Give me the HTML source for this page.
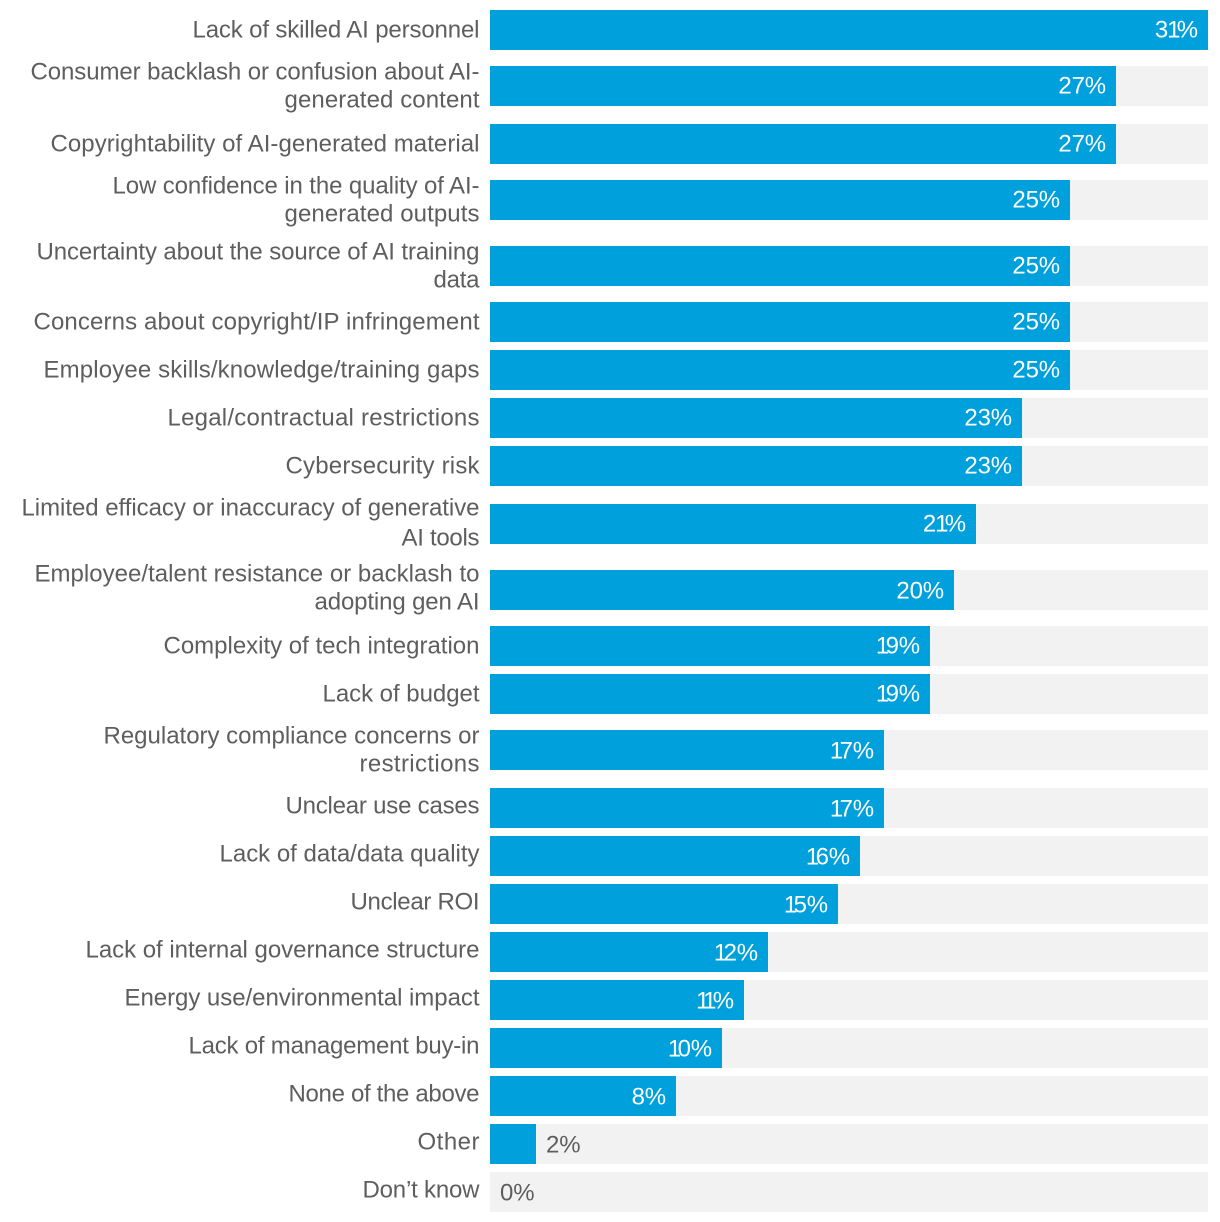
<!DOCTYPE html>
<html lang="en">
<head>
<meta charset="utf-8">
<title>Barriers to generative AI adoption</title>
<style>
  html, body { margin: 0; padding: 0; background: #fff; }
  body { width: 1220px; height: 1222px; overflow: hidden; }
  svg { display: block; }
  text { font-family: "Liberation Sans", Arial, sans-serif; font-size: 24px; }
  .cat { fill: #5e5e5e; text-anchor: end; }
  .val { letter-spacing: -0.15px; }
</style>
</head>
<body>
<svg id="chart" xmlns="http://www.w3.org/2000/svg" width="1220" height="1222" viewBox="0 0 1220 1222"></svg>
<script>
const categories = [
  "Lack of skilled AI personnel",
  "Consumer backlash or confusion about AI-|generated content",
  "Copyrightability of AI-generated material",
  "Low confidence in the quality of AI-|generated outputs",
  "Uncertainty about the source of AI training|data",
  "Concerns about copyright/IP infringement",
  "Employee skills/knowledge/training gaps",
  "Legal/contractual restrictions",
  "Cybersecurity risk",
  "Limited efficacy or inaccuracy of generative|AI tools",
  "Employee/talent resistance or backlash to|adopting gen AI",
  "Complexity of tech integration",
  "Lack of budget",
  "Regulatory compliance concerns or|restrictions",
  "Unclear use cases",
  "Lack of data/data quality",
  "Unclear ROI",
  "Lack of internal governance structure",
  "Energy use/environmental impact",
  "Lack of management buy-in",
  "None of the above",
  "Other",
  "Don\u2019t know"
];
const values = [31, 27, 27, 25, 25, 25, 25, 23, 23, 21, 20, 19, 19, 17, 17, 16, 15, 12, 11, 10, 8, 2, 0];
const valueMax = 31;

// Typesetting only: rendered width of each label line in the source typeface.
const labelLineWidths = {
  "Lack of skilled AI personnel": 287,
  "Consumer backlash or confusion about AI-": 449,
  "generated content": 195,
  "Copyrightability of AI-generated material": 429,
  "Low confidence in the quality of AI-": 367,
  "generated outputs": 195,
  "Uncertainty about the source of AI training": 443,
  "data": 46,
  "Concerns about copyright/IP infringement": 446,
  "Employee skills/knowledge/training gaps": 436,
  "Legal/contractual restrictions": 312,
  "Cybersecurity risk": 194,
  "Limited efficacy or inaccuracy of generative": 458,
  "AI tools": 78,
  "Employee/talent resistance or backlash to": 445,
  "adopting gen AI": 165,
  "Complexity of tech integration": 316,
  "Lack of budget": 157,
  "Regulatory compliance concerns or": 376,
  "restrictions": 120,
  "Unclear use cases": 194,
  "Lack of data/data quality": 260,
  "Unclear ROI": 129,
  "Lack of internal governance structure": 394,
  "Energy use/environmental impact": 355,
  "Lack of management buy-in": 291,
  "None of the above": 191,
  "Other": 62,
  "Don\u2019t know": 117
};

const svg = document.getElementById('chart');
const NS = 'http://www.w3.org/2000/svg';
const plotLeft = 490;
const plotRight = 1208;
const barHeight = 40;
const firstTop = 10;

// Bar widths snap to whole even pixels, as in the reference.
function xScale(v) {
  return 2 * Math.round((v / valueMax) * (plotRight - plotLeft) / 2);
}

function lineCount(i) {
  return categories[i].split('|').length;
}

// Vertical flow: rows with wrapped labels need more room than single-line rows.
function gapAfter(i) {
  const a = lineCount(i);
  const b = lineCount(i + 1);
  if (a === 1 && b === 1) return 48;
  if (a === 2 && b === 2) return 66;
  if (a === 1) return categories[i + 1].startsWith('Limited') ? 58 : 56;
  return i > 0 && lineCount(i - 1) === 2 ? 56 : 58;
}

// Small baseline offsets seen in the reference, by position in the list.
function labelShift(i) {
  return (i === 10 || i >= 14) ? -2 : 0;
}

function valueShift(i) {
  return (i === 10 || i >= 13) ? 0 : -1;
}

// The source typeface has a narrow digit 1: tighten only around that glyph.
function valueKerning(text) {
  return text.split('').map(function (ch, k) {
    let d = 0;
    if (k > 0 && text[k - 1] === '1') d -= 3.5;
    if (k > 0 && ch === '1') d -= 1;
    return d;
  }).join(' ');
}

function make(tag, attrs, parent) {
  const el = document.createElementNS(NS, tag);
  for (const k in attrs) el.setAttribute(k, attrs[k]);
  parent.appendChild(el);
  return el;
}

function slug(s) {
  return s.replace('|', ' ').toLowerCase().replace(/[^a-z0-9]+/g, '-').replace(/^-|-$/g, '');
}

let rowTop = firstTop;
categories.forEach(function (cat, i) {
  const rowName = slug(cat);
  const center = rowTop + barHeight / 2;
  const v = values[i];

  const row = make('g', {}, svg);
  
  

  const track = make('rect', { x: plotLeft, y: rowTop, width: plotRight - plotLeft, height: barHeight, fill: '#f2f2f2' }, row);
  
  

  if (v > 0) {
    const bar = make('rect', { x: plotLeft, y: rowTop, width: xScale(v), height: barHeight, fill: '#00a0dc' }, row);
    
    
  }

  const lines = cat.split('|');
  lines.forEach(function (line, j) {
    let dy;
    if (lines.length === 1) dy = 7.5;
    else if (j === 0) dy = (cat.startsWith('Limited') ? -8.5 : -6.5);
    else dy = 21.5;
    const label = make('text', {
      class: 'cat',
      x: 479.5,
      y: center + dy + labelShift(i),
      textLength: labelLineWidths[line],
      lengthAdjust: 'spacing'
    }, row);
    
    
    label.textContent = line;
  });

  const inside = xScale(v) > 60;
  const valueText = v + '%';
  const val = make('text', {
    class: 'val',
    x: inside ? plotLeft + xScale(v) - 10 : plotLeft + xScale(v) + 10,
    y: center + 8.5 + valueShift(i),
    dx: valueKerning(valueText),
    fill: inside ? '#ffffff' : '#5e5e5e',
    'text-anchor': inside ? 'end' : 'start'
  }, row);
  
  
  val.textContent = valueText;

  if (i < categories.length - 1) rowTop += gapAfter(i);
});
</script>
</body>
</html>
